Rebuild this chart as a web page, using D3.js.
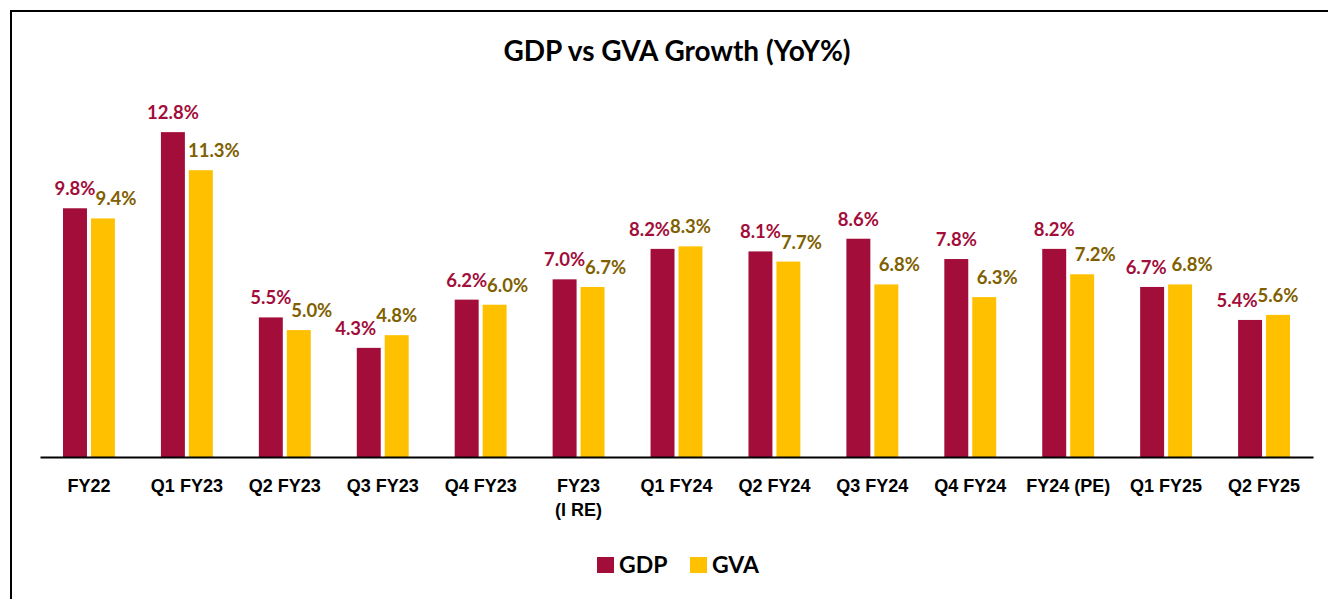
<!DOCTYPE html>
<html>
<head>
<meta charset="utf-8">
<script src="https://cdn.jsdelivr.net/npm/d3@7"></script>
<style>
  html, body { margin: 0; padding: 0; background: #fff; }
  svg { display: block; font-family: Lato, "Open Sans", sans-serif; }
</style>
</head>
<body>
<svg id="chart" width="1328" height="599"></svg>
<script>
// Quarterly / annual growth periods
const categories = ["FY22", "Q1 FY23", "Q2 FY23", "Q3 FY23", "Q4 FY23", "FY23\n(I RE)",
  "Q1 FY24", "Q2 FY24", "Q3 FY24", "Q4 FY24", "FY24 (PE)", "Q1 FY25", "Q2 FY25"];
const seriesNames = ["GDP", "GVA"];
const gdpValues = [9.8, 12.8, 5.5, 4.3, 6.2, 7.0, 8.2, 8.1, 8.6, 7.8, 8.2, 6.7, 5.4];
const gvaValues = [9.4, 11.3, 5.0, 4.8, 6.0, 6.7, 8.3, 7.7, 6.8, 6.3, 7.2, 6.8, 5.6];
const chartTitle = "GDP vs GVA Growth (YoY%)";

const barColors = { GDP: "#A20D3A", GVA: "#FFC000" };
const labelColors = { GDP: "#A20D3A", GVA: "#7F6000" };

const svg = d3.select("#chart");
const W = 1328, H = 599;
const baseY = 457;

// Frame around the chart area
svg.append("rect")
  .attr("x", 11).attr("y", 11)
  .attr("width", W + 20).attr("height", H + 20)
  .attr("fill", "none").attr("stroke", "#000").attr("stroke-width", 2);

// Title
svg.append("text")
  .attr("x", 677).attr("y", 61)
  .attr("text-anchor", "middle")
  .attr("font-size", 28).attr("font-weight", 700).attr("fill", "#000")
  .text(chartTitle);

const rows = categories.map((c, i) => ({
  cat: c,
  values: [
    { key: "GDP", value: gdpValues[i] },
    { key: "GVA", value: gvaValues[i] }
  ]
}));

const x0 = d3.scaleBand().domain(categories).range([40, 1313])
  .paddingInner(0.47).paddingOuter(0.235);
const x1 = d3.scaleBand().domain(seriesNames).range([0, x0.bandwidth()])
  .paddingInner(0.143);
const y = d3.scaleLinear().domain([0, 14]).range([baseY, baseY - 14 * 25.38]);

const groups = svg.append("g").selectAll("g")
  .data(rows).join("g")
  .attr("transform", d => `translate(${x0(d.cat)},0)`);

groups.selectAll("rect")
  .data(d => d.values).join("rect")
  .attr("x", d => x1(d.key))
  .attr("y", d => y(d.value))
  .attr("width", x1.bandwidth())
  .attr("height", d => y(0) - y(d.value))
  .attr("fill", d => barColors[d.key]);

// Value labels; the label of the shorter bar in each pair is nudged outward
groups.each(function (d) {
  const g = d3.select(this);
  d.values.forEach((v, i) => {
    const other = d.values[1 - i];
    let nudge = 0;
    if (v.value <= other.value) nudge = i === 0 ? -13 : 13;
    if (Math.abs(v.value - other.value) <= 0.1) nudge = i === 0 ? -6 : 12;
    g.append("text")
      .attr("x", x1(v.key) + x1.bandwidth() / 2 + nudge)
      .attr("y", y(v.value) - 13)
      .attr("text-anchor", "middle")
      .attr("font-size", 18.5).attr("font-weight", 700)
      .attr("fill", labelColors[v.key])
      .text(v.value.toFixed(1) + "%");
  });
});

// Category axis
const axis = svg.append("g")
  .attr("transform", `translate(0,${baseY})`)
  .call(d3.axisBottom(x0).tickSize(0).tickPadding(22).tickFormat(() => ""));
axis.select(".domain").attr("stroke", "#000").attr("stroke-width", 2);
axis.selectAll(".tick text").remove();
axis.selectAll(".tick").append("text")
  .attr("text-anchor", "middle")
  .attr("font-size", 18).attr("font-weight", 700).attr("fill", "#000")
  .each(function (d) {
    const t = d3.select(this);
    d.split("\n").forEach((line, i) => {
      t.append("tspan").attr("x", 0).attr("y", 35 + i * 24).text(line);
    });
  });

// Legend
const legend = svg.append("g");
const legendItems = [
  { key: "GDP", x: 597 },
  { key: "GVA", x: 690 }
];
legendItems.forEach(it => {
  legend.append("rect")
    .attr("x", it.x).attr("y", 557).attr("width", 17).attr("height", 16)
    .attr("fill", barColors[it.key]);
  legend.append("text")
    .attr("x", it.x + 22).attr("y", 573)
    .attr("font-size", 23).attr("font-weight", 700).attr("fill", "#000")
    .text(it.key);
});
</script>
</body>
</html>
